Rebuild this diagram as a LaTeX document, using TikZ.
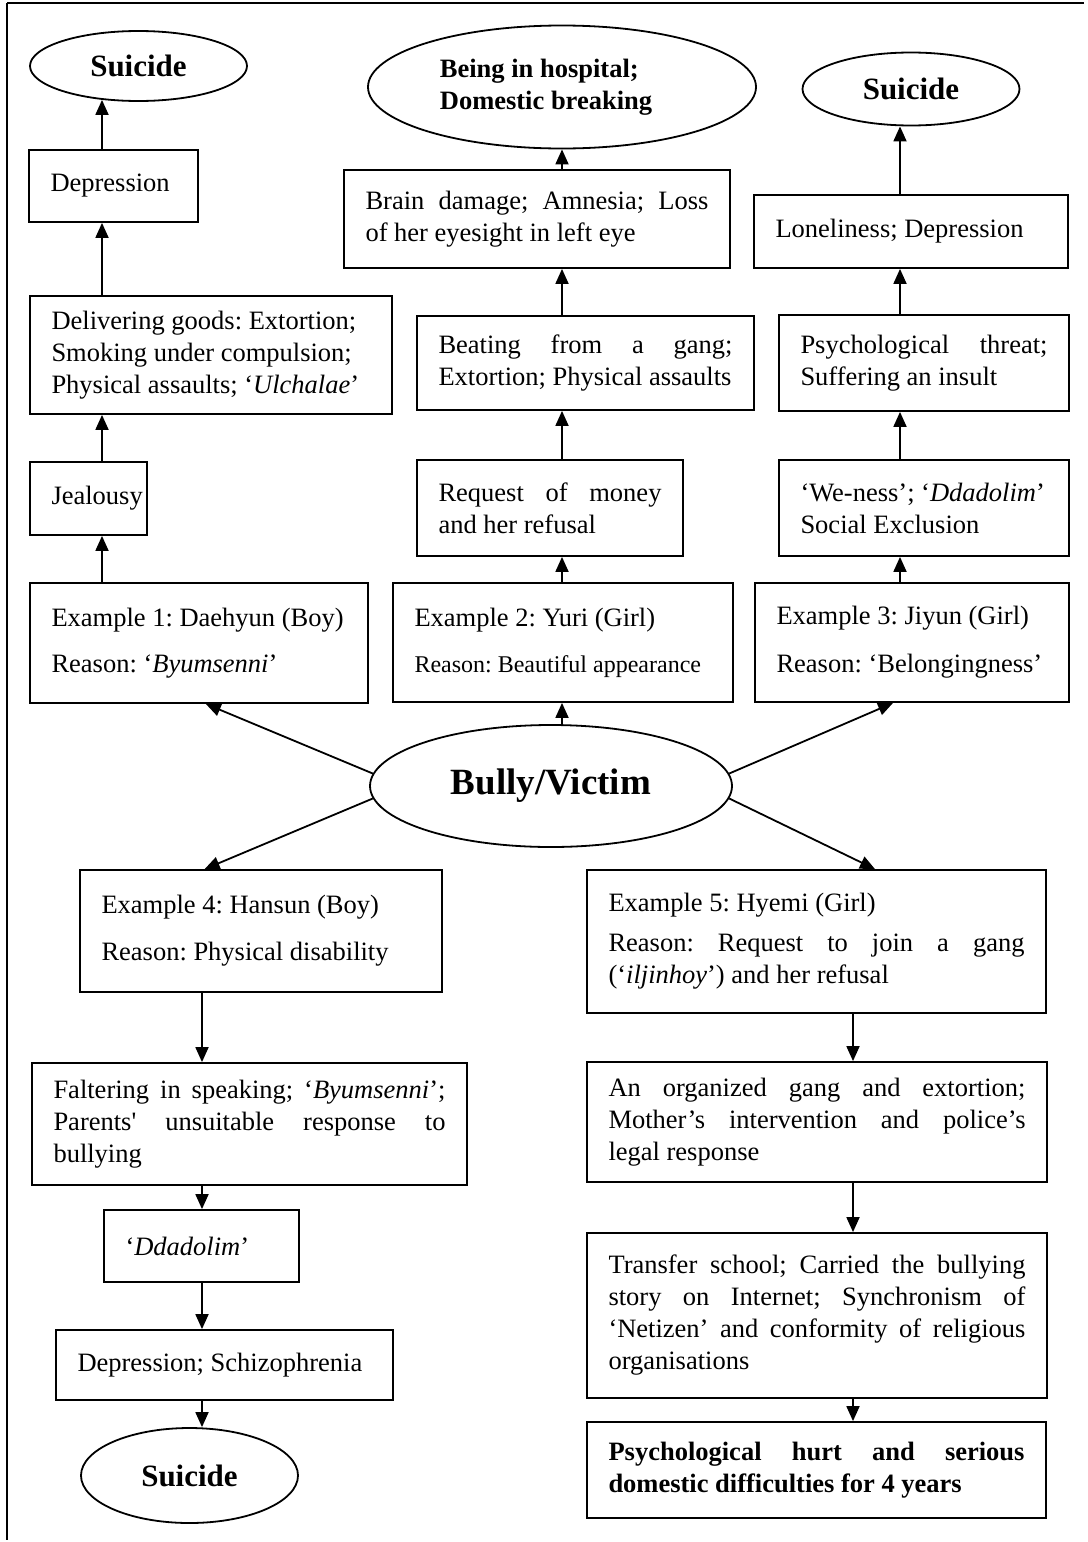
\documentclass[tikz,border=0pt]{standalone}
\usepackage{fontspec}
\setmainfont{Liberation Serif}
\usetikzlibrary{shapes.geometric,arrows.meta,calc}
\newcommand\fsz{\fontsize{26.5}{32}\selectfont}
\newcommand\jl[2]{\leavevmode{\spaceskip=.25em plus 1fil\xspaceskip=\spaceskip\hbox to #1pt{#2}}}
\frenchspacing
\begin{document}
\begin{tikzpicture}[x=1pt,y=-1pt,
  box/.style={draw,line width=1.8pt,rectangle,inner xsep=21.5pt,inner ysep=3pt,align=left,font=\fsz,
    execute at begin node={\spaceskip=0pt\xspaceskip=0pt\hyphenpenalty=10000\frenchspacing}},
  ell/.style={draw,line width=1.8pt,ellipse,inner sep=0pt,
    execute at begin node={\spaceskip=0pt\xspaceskip=0pt}},
  arr/.style={line width=1.8pt,-{Triangle[width=13pt,length=15pt]}},
  frameline/.style={line width=1.8pt}]
\useasboundingbox (0,0) rectangle (1087,1542);
\draw[frameline] (7,3) -- (1084,3);
\draw[frameline] (7,3) -- (7,1540);

\coordinate (c1) at (102,0);
\coordinate (c2) at (562,0);
\coordinate (c3) at (900,0);
\coordinate (c4) at (202,0);
\coordinate (c5) at (853,0);

% left column (top)
\node[ell,minimum width=217pt,minimum height=70pt,font=\fontsize{31}{36}\selectfont\bfseries] (suic1) at (138.5,66) {Suicide};
\node[box,minimum width=169pt,minimum height=72pt,text width=126pt] (dep1) at (113.5,186) {Depression};
\node[box,minimum width=362pt,minimum height=118pt,text width=319pt] (deliv) at (211,355) {Delivering goods: Extortion;\\ Smoking under compulsion;\\ Physical assaults; ‘\textit{Ulchalae}’};
\node[box,minimum width=117pt,minimum height=73pt,text width=74pt] (jeal) at (88.5,498.5) {\mbox{Jealousy}};
\node[box,minimum width=338pt,minimum height=120pt,text width=295pt] (ex1) at (199,643) {\mbox{Example 1: Daehyun (Boy)}\\[14pt] Reason: ‘\textit{Byumsenni}’};

% middle column (top)
\node[ell,minimum width=388pt,minimum height=123pt,align=left,font=\fsz\bfseries] (hosp) at (562,87) {Being in hospital;\\ Domestic breaking\hspace*{32pt}};
\node[box,minimum width=386pt,minimum height=98pt,text width=343pt] (brain) at (537,219) {\jl{343}{Brain damage; Amnesia; Loss}\\ of her eyesight in left eye};
\node[box,minimum width=337pt,minimum height=94pt,text width=294pt] (beat) at (585.5,363) {\jl{294}{Beating from a gang;}\\ \mbox{Extortion; Physical assaults}};
\node[box,minimum width=266pt,minimum height=96pt,text width=223pt] (req) at (550,508) {\jl{223}{Request of money}\\ and her refusal};
\node[box,minimum width=340pt,minimum height=119pt,text width=297pt] (ex2) at (563,642.5) {Example 2: Yuri (Girl)\\[14pt] {\fontsize{24}{32}\selectfont Reason: Beautiful appearance}};

% right column (top)
\node[ell,minimum width=217pt,minimum height=73pt,font=\fontsize{31}{36}\selectfont\bfseries] (suic3) at (911,89) {Suicide};
\node[box,minimum width=314pt,minimum height=73pt,text width=271pt] (lonely) at (911,231.5) {Loneliness; Depression};
\node[box,minimum width=290pt,minimum height=96pt,text width=247pt] (psych) at (924,363) {\jl{247}{Psychological threat;}\\ Suffering an insult};
\node[box,minimum width=290pt,minimum height=96pt,text width=247pt] (wen) at (924,508) {\mbox{‘We-ness’; ‘\textit{Ddadolim}’}\\ Social Exclusion};
\node[box,minimum width=314pt,minimum height=119pt,text width=271pt] (ex3) at (912,642.5) {Example 3: Jiyun (Girl)\\[16pt] \mbox{Reason: ‘Belongingness’}};

% centre
\node[ell,minimum width=362pt,minimum height=122pt,font=\fontsize{37}{42}\selectfont\bfseries] (bully) at (551,786) {Bully/Victim};

% lower left
\node[box,minimum width=362pt,minimum height=122pt,text width=319pt] (ex4) at (261,931) {Example 4: Hansun (Boy)\\[15pt] Reason: Physical disability};
\node[box,minimum width=435pt,minimum height=122pt,text width=392pt] (falt) at (249.5,1124) {\jl{392}{Faltering in speaking; ‘\textit{Byumsenni}’;}\\ \jl{392}{Parents\textquotesingle{} unsuitable response to}\\ bullying};
\node[box,minimum width=195pt,minimum height=72pt,text width=152pt] (dd) at (201.5,1246) {‘\textit{Ddadolim}’};
\node[box,minimum width=337pt,minimum height=70pt,text width=294pt] (dsch) at (224.5,1365) {Depression; Schizophrenia};
\node[ell,minimum width=217pt,minimum height=95pt,font=\fontsize{31}{36}\selectfont\bfseries] (suic4) at (189.5,1475.5) {Suicide};

% lower right
\node[box,minimum width=459pt,minimum height=143pt,text width=416pt] (ex5) at (816.5,941.5) {Example 5: Hyemi (Girl)\\[8pt] \jl{416}{Reason: Request to join a gang}\\ (‘\textit{iljinhoy}’) and her refusal};
\node[box,minimum width=460pt,minimum height=120pt,text width=417pt] (org) at (817,1122) {\jl{417}{An organized gang and extortion;}\\ \jl{417}{Mother’s intervention and police’s}\\ legal response};
\node[box,minimum width=460pt,minimum height=165pt,text width=417pt] (trans) at (817,1315.5) {\jl{417}{Transfer school; Carried the bullying}\\ \jl{417}{story on Internet; Synchronism of}\\ \jl{417}{‘Netizen’ and conformity of religious}\\ organisations};
\node[box,minimum width=459pt,minimum height=96pt,text width=416pt,font=\fsz\bfseries] (hurt) at (816.5,1470) {\jl{416}{Psychological hurt and serious}\\ domestic difficulties for 4 years};

% arrows, left column
\draw[arr] (ex1.north -| c1) -- (jeal.south -| c1);
\draw[arr] (jeal.north -| c1) -- (deliv.south -| c1);
\draw[arr] (deliv.north -| c1) -- (dep1.south -| c1);
\draw[arr] (dep1.north -| c1) -- ($(suic1.south -| c1)+(0,-2)$);
% middle column
\draw[arr] (ex2.north -| c2) -- (req.south -| c2);
\draw[arr] (req.north -| c2) -- (beat.south -| c2);
\draw[arr] (beat.north -| c2) -- (brain.south -| c2);
\draw[arr] (brain.north -| c2) -- (hosp.south);
% right column
\draw[arr] (ex3.north -| c3) -- (wen.south -| c3);
\draw[arr] (wen.north -| c3) -- (psych.south -| c3);
\draw[arr] (psych.north -| c3) -- (lonely.south -| c3);
\draw[arr] (lonely.north -| c3) -- (suic3.south -| c3);
% from Bully/Victim
\draw[arr] (bully.176) -- ($(ex1.south west)!0.52!(ex1.south east)$);
\draw[arr] (bully.north -| c2) -- (ex2.south -| c2);
\draw[arr] (bully.4) -- ($(ex3.south west)!0.44!(ex3.south east)$);
\draw[arr] (bully.184) -- ($(ex4.north west)!0.345!(ex4.north east)$);
\draw[arr] (bully.-4) -- ($(ex5.north west)!0.627!(ex5.north east)$);
% lower left
\draw[arr] (ex4.south -| c4) -- (falt.north -| c4);
\draw[arr] (falt.south -| c4) -- (dd.north -| c4);
\draw[arr] (dd.south -| c4) -- (dsch.north -| c4);
\draw[arr] (dsch.south -| c4) -- (suic4.north -| c4);
% lower right
\draw[arr] (ex5.south -| c5) -- (org.north -| c5);
\draw[arr] (org.south -| c5) -- (trans.north -| c5);
\draw[arr] (trans.south -| c5) -- (hurt.north -| c5);
\end{tikzpicture}
\end{document}
